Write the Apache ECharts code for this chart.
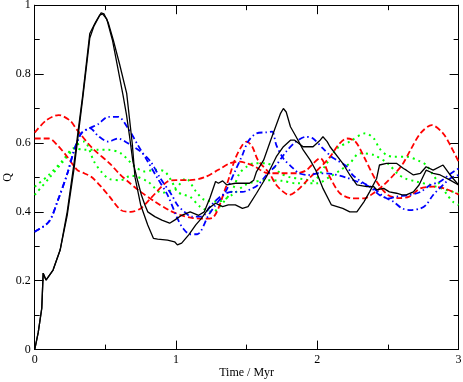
<!DOCTYPE html>
<html>
<head>
<meta charset="utf-8">
<script src="https://cdn.jsdelivr.net/npm/echarts@6/dist/echarts.min.js"></script>
<style>
html,body{margin:0;padding:0;background:#fff;}
#chart{width:463px;height:382px;}
</style>
</head>
<body>
<div id="chart"></div>
<script>
// ---- data (time in Myr, Q) ----
const redA_t = [0, 0.08, 0.17, 0.25, 0.3, 0.41, 0.53, 0.6, 0.66, 0.75, 0.85, 0.95, 1.04, 1.12, 1.2, 1.26, 1.35, 1.42, 1.47, 1.5, 1.54, 1.58, 1.66, 1.71, 1.76, 1.8, 1.86, 1.92, 1.99, 2.06, 2.1, 2.15, 2.21, 2.27, 2.33, 2.42, 2.5, 2.58, 2.65, 2.73, 2.82, 2.9, 3.0];
const redA_q = [0.63, 0.665, 0.681, 0.665, 0.638, 0.584, 0.541, 0.51, 0.488, 0.458, 0.43, 0.405, 0.39, 0.382, 0.38, 0.383, 0.468, 0.555, 0.594, 0.604, 0.589, 0.55, 0.512, 0.478, 0.458, 0.449, 0.463, 0.488, 0.517, 0.546, 0.565, 0.595, 0.613, 0.604, 0.56, 0.488, 0.449, 0.44, 0.444, 0.468, 0.473, 0.468, 0.45];

const redB_t = [0, 0.1, 0.16, 0.23, 0.3, 0.35, 0.4, 0.47, 0.53, 0.61, 0.68, 0.75, 0.82, 0.94, 1.0, 1.1, 1.2, 1.3, 1.38, 1.45, 1.5, 1.56, 1.65, 1.75, 1.85, 1.92, 1.97, 2.02, 2.09, 2.16, 2.25, 2.33, 2.4, 2.47, 2.54, 2.6, 2.66, 2.73, 2.81, 2.89, 2.94, 3.0];
const redB_q = [0.613, 0.613, 0.594, 0.56, 0.522, 0.512, 0.502, 0.473, 0.444, 0.405, 0.40, 0.41, 0.439, 0.488, 0.492, 0.492, 0.50, 0.522, 0.541, 0.546, 0.541, 0.531, 0.512, 0.512, 0.512, 0.52, 0.54, 0.556, 0.50, 0.454, 0.439, 0.439, 0.455, 0.478, 0.507, 0.536, 0.58, 0.628, 0.652, 0.628, 0.594, 0.546];

const greenA_t = [0, 0.1, 0.2, 0.28, 0.35, 0.45, 0.52, 0.61, 0.71, 0.78, 0.85, 0.92, 0.97, 1.01, 1.06, 1.1, 1.17, 1.26, 1.33, 1.4, 1.45, 1.5, 1.55, 1.64, 1.69, 1.74, 1.81, 1.9, 1.97, 2.05, 2.14, 2.23, 2.34, 2.4, 2.44, 2.49, 2.54, 2.63, 2.73, 2.77, 2.82, 2.87, 2.92, 2.96, 3.0];
const greenA_q = [0.473, 0.507, 0.55, 0.585, 0.58, 0.58, 0.58, 0.57, 0.531, 0.517, 0.522, 0.517, 0.488, 0.458, 0.449, 0.444, 0.415, 0.40, 0.425, 0.464, 0.512, 0.531, 0.541, 0.541, 0.531, 0.512, 0.50, 0.495, 0.49, 0.53, 0.584, 0.604, 0.628, 0.613, 0.584, 0.565, 0.56, 0.56, 0.546, 0.536, 0.507, 0.478, 0.449, 0.429, 0.42];

const greenB_t = [0, 0.1, 0.2, 0.3, 0.35, 0.42, 0.47, 0.53, 0.61, 0.68, 0.8, 0.9, 1.0, 1.07, 1.14, 1.2, 1.3, 1.4, 1.5, 1.64, 1.75, 1.85, 2.0, 2.09, 2.16, 2.23, 2.3, 2.4, 2.5, 2.57, 2.62, 2.7, 2.8, 2.88, 2.96, 3.0];
const greenB_q = [0.449, 0.497, 0.546, 0.594, 0.604, 0.546, 0.517, 0.495, 0.492, 0.505, 0.488, 0.455, 0.47, 0.497, 0.46, 0.435, 0.43, 0.45, 0.48, 0.492, 0.49, 0.483, 0.483, 0.502, 0.52, 0.541, 0.57, 0.565, 0.54, 0.51, 0.497, 0.488, 0.478, 0.468, 0.458, 0.455];

const blueA_t = [0, 0.1, 0.16, 0.23, 0.28, 0.33, 0.39, 0.45, 0.52, 0.59, 0.66, 0.73, 0.8, 0.87, 0.94, 1.01, 1.05, 1.1, 1.15, 1.23, 1.28, 1.35, 1.42, 1.47, 1.51, 1.57, 1.64, 1.68, 1.71, 1.76, 1.83, 1.87, 1.94, 2.01, 2.1, 2.2, 2.3, 2.37, 2.44, 2.51, 2.56, 2.65, 2.73, 2.8, 2.87, 2.93, 3.0];
const blueA_q = [0.342, 0.371, 0.429, 0.51, 0.58, 0.628, 0.643, 0.655, 0.676, 0.676, 0.643, 0.594, 0.546, 0.497, 0.449, 0.381, 0.352, 0.335, 0.335, 0.39, 0.42, 0.458, 0.52, 0.565, 0.604, 0.628, 0.631, 0.633, 0.594, 0.555, 0.526, 0.512, 0.507, 0.512, 0.51, 0.50, 0.485, 0.473, 0.449, 0.439, 0.444, 0.449, 0.458, 0.478, 0.488, 0.507, 0.526];

const blueB_t = [0, 0.1, 0.16, 0.23, 0.28, 0.33, 0.39, 0.45, 0.52, 0.59, 0.66, 0.75, 0.82, 0.89, 0.97, 1.01, 1.06, 1.11, 1.18, 1.25, 1.33, 1.4, 1.47, 1.54, 1.58, 1.64, 1.71, 1.78, 1.85, 1.92, 1.97, 2.04, 2.1, 2.14, 2.21, 2.25, 2.33, 2.4, 2.47, 2.54, 2.6, 2.66, 2.73, 2.77, 2.82, 2.89, 2.94, 3.0];
const blueB_q = [0.342, 0.371, 0.429, 0.51, 0.58, 0.628, 0.643, 0.62, 0.604, 0.613, 0.599, 0.575, 0.546, 0.497, 0.449, 0.42, 0.40, 0.386, 0.386, 0.42, 0.449, 0.458, 0.458, 0.468, 0.478, 0.507, 0.536, 0.575, 0.604, 0.618, 0.613, 0.584, 0.56, 0.55, 0.531, 0.507, 0.483, 0.468, 0.444, 0.429, 0.41, 0.405, 0.41, 0.42, 0.449, 0.478, 0.497, 0.507];

const blackA_t = [0, 0.025, 0.05, 0.06, 0.08, 0.13, 0.18, 0.23, 0.28, 0.31, 0.34, 0.39, 0.43, 0.46, 0.48, 0.51, 0.55, 0.625, 0.65, 0.67, 0.695, 0.73, 0.755, 0.78, 0.8, 0.85, 0.9, 0.955, 0.99, 1.04, 1.1, 1.16, 1.2, 1.24, 1.28, 1.3, 1.33, 1.36, 1.42, 1.52, 1.55, 1.57, 1.62, 1.67, 1.74, 1.76, 1.78, 1.81, 1.85, 1.9, 1.95, 1.99, 2.04, 2.1, 2.18, 2.23, 2.28, 2.33, 2.37, 2.42, 2.44, 2.49, 2.56, 2.61, 2.63, 2.68, 2.73, 2.77, 2.82, 2.89, 2.94, 3.0];
const blackA_q = [0, 0.05, 0.12, 0.222, 0.202, 0.231, 0.289, 0.40, 0.546, 0.643, 0.739, 0.918, 0.95, 0.971, 0.975, 0.96, 0.899, 0.739, 0.681, 0.623, 0.546, 0.488, 0.449, 0.42, 0.40, 0.386, 0.376, 0.367, 0.376, 0.39, 0.40, 0.39, 0.40, 0.44, 0.488, 0.483, 0.49, 0.478, 0.483, 0.483, 0.492, 0.517, 0.55, 0.608, 0.686, 0.70, 0.69, 0.647, 0.618, 0.58, 0.55, 0.52, 0.468, 0.42, 0.41, 0.40, 0.40, 0.429, 0.458, 0.497, 0.536, 0.541, 0.541, 0.526, 0.521, 0.507, 0.512, 0.531, 0.521, 0.536, 0.507, 0.478];

const blackB_t = [0, 0.025, 0.05, 0.06, 0.08, 0.13, 0.18, 0.23, 0.28, 0.31, 0.34, 0.39, 0.42, 0.47, 0.49, 0.52, 0.556, 0.6, 0.651, 0.69, 0.71, 0.75, 0.8, 0.84, 0.87, 0.94, 0.99, 1.01, 1.04, 1.09, 1.14, 1.18, 1.23, 1.28, 1.33, 1.37, 1.42, 1.47, 1.51, 1.57, 1.64, 1.71, 1.76, 1.81, 1.84, 1.9, 1.97, 2.02, 2.04, 2.07, 2.09, 2.18, 2.23, 2.28, 2.35, 2.4, 2.42, 2.47, 2.51, 2.56, 2.6, 2.63, 2.68, 2.72, 2.77, 2.82, 2.87, 2.94, 3.0];
const blackB_q = [0, 0.05, 0.12, 0.222, 0.202, 0.231, 0.289, 0.39, 0.53, 0.63, 0.73, 0.905, 0.94, 0.978, 0.975, 0.95, 0.899, 0.83, 0.744, 0.60, 0.50, 0.42, 0.362, 0.323, 0.321, 0.318, 0.313, 0.304, 0.309, 0.333, 0.362, 0.381, 0.41, 0.425, 0.415, 0.42, 0.42, 0.41, 0.415, 0.454, 0.502, 0.56, 0.589, 0.608, 0.608, 0.589, 0.589, 0.608, 0.618, 0.604, 0.589, 0.541, 0.507, 0.478, 0.473, 0.473, 0.464, 0.468, 0.458, 0.454, 0.449, 0.449, 0.458, 0.478, 0.521, 0.512, 0.507, 0.492, 0.478];

const xTicks = [0, 1, 2, 3];
const yTicks = [0, 0.2, 0.4, 0.6, 0.8, 1];
const xTitle = 'Time / Myr';
const yTitle = 'Q';

// ---- chart ----
const zip = (t, q) => t.map((v, i) => [v, q[i]]);
const FONT = '"Liberation Serif", "Times New Roman", serif';

function mkSeries(t, q, color, type, width, smooth) {
  return {
    type: 'line', data: zip(t, q), showSymbol: false, symbol: 'none',
    smooth: smooth, animation: false, silent: true,
    lineStyle: { color: color, width: width, type: type, cap: 'butt' }
  };
}

function axisCommon(min, max, interval, showLabel) {
  return {
    type: 'value', min: min, max: max, interval: interval,
    axisLine: { show: true, onZero: false, lineStyle: { color: '#000', width: 1 } },
    axisTick: { show: true, inside: true, length: 9, lineStyle: { color: '#000', width: 1 } },
    minorTick: { show: true, splitNumber: 2, length: 5, lineStyle: { color: '#000', width: 1 } },
    splitLine: { show: false },
    axisLabel: { show: showLabel, color: '#000', fontFamily: FONT, fontSize: 12 }
  };
}

const chart = echarts.init(document.getElementById('chart'), null, { renderer: 'canvas' });
const xBottom = Object.assign(axisCommon(xTicks[0], xTicks[xTicks.length - 1], 1, true), {
  position: 'bottom', name: xTitle, nameLocation: 'middle', nameGap: 17, nameMoveOverlap: false,
  nameTextStyle: { color: '#000', fontFamily: FONT, fontSize: 12 }
});
xBottom.axisLabel.margin = 4;
const xTop = Object.assign(axisCommon(xTicks[0], xTicks[xTicks.length - 1], 1, false), { position: 'top' });
const yLeft = Object.assign(axisCommon(yTicks[0], yTicks[yTicks.length - 1], 0.2, true), {
  position: 'left', name: yTitle, nameLocation: 'middle', nameGap: 21, nameMoveOverlap: false,
  nameTextStyle: { color: '#000', fontFamily: FONT, fontSize: 12 }
});
yLeft.axisLabel.margin = 4;
const yRight = Object.assign(axisCommon(yTicks[0], yTicks[yTicks.length - 1], 0.2, false), { position: 'right' });

chart.setOption({
  animation: false,
  backgroundColor: '#fff',
  grid: { left: 34.7, right: 4.4, top: 5.2, bottom: 32.4, containLabel: false, outerBoundsMode: 'none' },
  xAxis: [xBottom, xTop],
  yAxis: [yLeft, yRight],
  series: [
    mkSeries(greenA_t, greenA_q, '#00ff00', [2, 4], 2, 0.3),
    mkSeries(greenB_t, greenB_q, '#00ff00', [2, 4], 2, 0.3),
    mkSeries(redA_t, redA_q, '#ff0000', [6, 3], 1.8, 0.3),
    mkSeries(redB_t, redB_q, '#ff0000', [6, 3], 1.8, 0.3),
    mkSeries(blueA_t, blueA_q, '#0000ff', [6, 3, 1.5, 3], 1.8, 0.3),
    mkSeries(blueB_t, blueB_q, '#0000ff', [6, 3, 1.5, 3], 1.8, 0.3),
    mkSeries(blackA_t, blackA_q, '#000000', 'solid', 1.3, false),
    mkSeries(blackB_t, blackB_q, '#000000', 'solid', 1.3, false)
  ]
});
</script>
</body>
</html>
